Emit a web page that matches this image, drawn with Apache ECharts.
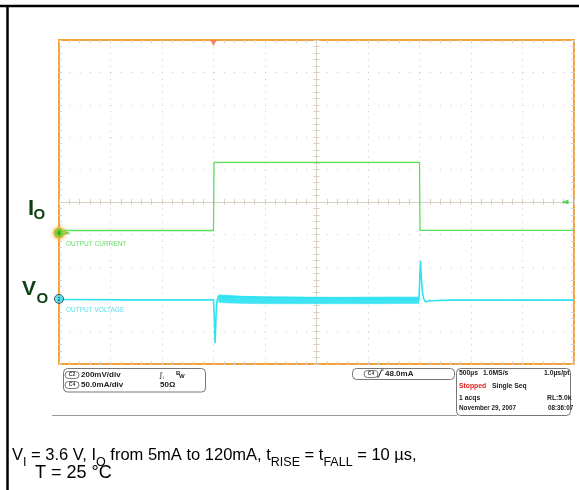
<!DOCTYPE html>
<html><head><meta charset="utf-8">
<script src="https://cdn.jsdelivr.net/npm/echarts/dist/echarts.min.js"></script>
<style>html,body{margin:0;padding:0;background:#fff}#c{width:579px;height:490px}</style>
</head><body><div id="c"></div>
<script>
// Time in µs relative to screen centre (500 µs/div); amplitudes in screen divisions (10 div high)
const currentTime = [-2500, -1000, -995, 1000, 1005, 2500];
const currentDiv  = [-0.88, -0.88, 1.225, 1.225, -0.875, -0.875];
const voltageTime = [-2500, -1800, -1000, -992, -985, -980, -974, -966, -955, -945, 995, 1003, 1010, 1018, 1028, 1040, 1058, 1100, 1300, 2500];
const voltageDiv  = [-3.01, -3.02, -3.02, -3.6, -4.36, -3.95, -3.4, -3.05, -2.92, -2.95, -3.0, -2.3, -1.82, -2.35, -2.77, -2.98, -3.08, -3.05, -3.03, -3.03];
const rippleTime  = [-950, -850, -700, -500, -200, 200, 600, 995];
const rippleHigh  = [-2.86, -2.88, -2.91, -2.93, -2.93, -2.94, -2.93, -2.93];
const rippleLow   = [-3.10, -3.12, -3.13, -3.14, -3.14, -3.14, -3.14, -3.13];
const groundRefDiv = [-0.96, -2.99];     // channel 4 (current), channel 2 (voltage)
const triggerTime = -1000;
const triggerLevelDiv = 0;

const gridC = '#d8d0c2', dotC = '#c9c9c9', orange = '#f2a23a';
const green = '#58e058', cyan = '#2fe2f2';
const FF = '"Liberation Sans", Arial, Helvetica, sans-serif';

function xAx(position, onZero, split) {
  return {
    type: 'value', min: -2500, max: 2500, interval: 500, position: position,
    axisLine: { show: onZero, onZero: onZero, lineStyle: { color: gridC, width: 1 } },
    axisTick: { show: true, inside: !onZero, length: 3, lineStyle: { color: gridC } },
    minorTick: { show: true, splitNumber: 5, length: 3, lineStyle: { color: gridC } },
    axisLabel: { show: false },
    splitLine: { show: split, lineStyle: { color: dotC, width: 1, type: [1, 5.48] } }
  };
}
function yAx(position, onZero, split) {
  return {
    type: 'value', min: -5, max: 5, interval: 1, position: position,
    axisLine: { show: onZero, onZero: onZero, lineStyle: { color: gridC, width: 1 } },
    axisTick: { show: true, inside: !onZero, length: 3, lineStyle: { color: gridC } },
    minorTick: { show: true, splitNumber: 5, length: 3, lineStyle: { color: gridC } },
    axisLabel: { show: false },
    splitLine: { show: split, lineStyle: { color: dotC, width: 1, type: [1, 9.3] } }
  };
}

const zip = (a, b) => a.map((v, i) => [v, b[i]]);

function txt(x, y, s, size, opts) {
  opts = opts || {};
  return { type: 'text', x: x, y: y, silent: true, z: 10,
    style: Object.assign({ text: s, font: (opts.weight || 'bold') + ' ' + size + 'px ' + FF,
      fill: opts.color || '#222', align: opts.align || 'left', verticalAlign: 'middle' }, opts.style || {}) };
}
function pill(x, y, label) {
  return [
    { type: 'rect', shape: { x: x, y: y, width: 14, height: 7, r: 3.5 }, style: { fill: '#fff', stroke: '#555', lineWidth: 0.8 }, z: 10 },
    txt(x + 7, y + 3.6, label, 5, { align: 'center', color: '#333' })
  ];
}

const graphics = [
  // page frame lines
  { type: 'line', shape: { x1: 0, y1: 6, x2: 579, y2: 6 }, style: { stroke: '#000', lineWidth: 2.5 } },
  { type: 'line', shape: { x1: 7.5, y1: 5, x2: 7.5, y2: 490 }, style: { stroke: '#000', lineWidth: 2.5 } },
  // channel labels
  txt(28, 208.5, 'I', 22, { color: '#0d3f10' }),
  txt(33.5, 214.5, 'O', 15, { color: '#0d3f10' }),
  txt(22, 289, 'V', 21, { color: '#0d3f10' }),
  txt(36.5, 298.5, 'O', 15, { color: '#0d3f10' }),
  txt(66, 244, 'OUTPUT CURRENT', 6.5, { weight: 'normal', color: '#66dd66' }),
  txt(66, 310, 'OUTPUT VOLTAGE', 6.5, { weight: 'normal', color: '#55dde8' }),
  // info box 1
  { type: 'rect', shape: { x: 63.5, y: 368.5, width: 142, height: 23.5, r: 4 }, style: { fill: 'none', stroke: '#777', lineWidth: 1 } },
  ...pill(65, 371.5, 'C2'),
  txt(81, 375, '200mV/div', 8),
  ...pill(65, 381.5, 'C4'),
  txt(81, 385, '50.0mA/div', 8),
  txt(160, 375, 'ʃ', 8, { weight: 'normal' }),
  txt(162, 378, '↓', 5, { weight: 'normal' }),
  txt(176, 373, 'B', 6),
  txt(179, 376.5, 'W', 6),
  txt(160, 385, '50Ω', 8),
  // trigger box
  { type: 'rect', shape: { x: 352.5, y: 368.5, width: 102, height: 11, r: 4 }, style: { fill: 'none', stroke: '#777', lineWidth: 1 } },
  ...pill(364, 370.5, 'C4'),
  { type: 'polyline', shape: { points: [[377, 377], [378.5, 377], [381.5, 370], [383.5, 370]] }, style: { stroke: '#222', lineWidth: 1, fill: 'none' } },
  txt(385, 374, '48.0mA', 8),
  // acquisition box
  { type: 'rect', shape: { x: 456.5, y: 368.5, width: 114, height: 47, r: 4 }, style: { fill: 'none', stroke: '#777', lineWidth: 1 } },
  txt(459, 373.5, '500µs', 6.8),
  txt(483, 373.5, '1.0MS/s', 6.8),
  txt(544, 373.5, '1.0µs/pt', 6.8),
  txt(459, 386, 'Stopped', 6.8, { color: '#e02020' }),
  txt(492, 386, 'Single Seq', 6.8),
  txt(459, 398, '1 acqs', 6.8),
  txt(547, 398, 'RL:5.0k', 6.8),
  txt(459, 408, 'November 29, 2007', 6.3),
  txt(548, 408, '08:36:07', 6.3),
  { type: 'line', shape: { x1: 52, y1: 415.5, x2: 457, y2: 415.5 }, style: { stroke: '#999', lineWidth: 1 } },
  // caption
  { type: 'text', x: 12, y: 447, silent: true, style: {
      text: '{m|V}{s|I}{m| = 3.6 V, I}{s|O}{m| from 5mA to 120mA, t}{s|RISE}{m| = t}{s|FALL}{m| = 10 µs,}',
      fill: '#000', verticalAlign: 'top',
      rich: {
        m: { fontSize: 16.5, fontFamily: FF, fill: '#000', padding: [0, 0, 6, 0] },
        s: { fontSize: 12.5, fontFamily: FF, fill: '#000', padding: [8, 0, 0, 0] }
      } } },
  txt(35, 473, 'T = 25 °C', 18, { weight: 'normal', color: '#000' })
];

const option = {
  animation: false,
  backgroundColor: '#fff',
  grid: { left: 59, top: 40, width: 515, height: 324, show: true, borderColor: orange, borderWidth: 2, backgroundColor: 'transparent' },
  xAxis: [xAx('bottom', true, true), xAx('top', true, false), xAx('bottom', false, false), xAx('top', false, false)],
  yAxis: [yAx('left', true, true), yAx('right', true, false), yAx('left', false, false), yAx('right', false, false)],
  series: [
    { type: 'custom', xAxisIndex: 0, yAxisIndex: 0, data: [[0, 0]], z: 3, silent: true,
      renderItem: function (params, api) {
        const pts = [];
        for (let i = 0; i < rippleTime.length; i++) pts.push(api.coord([rippleTime[i], rippleHigh[i]]));
        for (let i = rippleTime.length - 1; i >= 0; i--) pts.push(api.coord([rippleTime[i], rippleLow[i]]));
        return { type: 'polygon', shape: { points: pts }, style: { fill: '#3ee4f3', stroke: '#3ee4f3', lineWidth: 0.5 } };
      } },
    { type: 'line', name: 'Vo', xAxisIndex: 0, yAxisIndex: 0, data: zip(voltageTime, voltageDiv), symbol: 'none', z: 4,
      lineStyle: { color: cyan, width: 1.6 } },
    { type: 'line', name: 'Io', xAxisIndex: 0, yAxisIndex: 0, data: zip(currentTime, currentDiv), symbol: 'none', z: 5,
      lineStyle: { color: green, width: 1.3 } },
    { type: 'scatter', xAxisIndex: 0, yAxisIndex: 0, clip: false, z: 8, silent: true,
      data: [
        { value: [-2500, groundRefDiv[0]], symbol: 'triangle', symbolSize: [5, 7], symbolRotate: -90, symbolOffset: [8, 0], itemStyle: { color: '#33cc33' } },
        { value: [-2500, groundRefDiv[0]], symbol: 'circle', symbolSize: 10,
          itemStyle: { color: '#22dd22', borderColor: '#f5b040', borderWidth: 1.5, shadowColor: '#f5b040', shadowBlur: 4 },
          label: { show: true, formatter: '4', position: 'inside', fontSize: 6, color: '#114411', fontFamily: FF } },
        { value: [-2500, groundRefDiv[1]], symbol: 'circle', symbolSize: 9,
          itemStyle: { color: '#3ae0f0', borderColor: '#334', borderWidth: 1 },
          label: { show: true, formatter: '2', position: 'inside', fontSize: 6, color: '#114', fontFamily: FF } },
        { value: [triggerTime, 5], symbol: 'triangle', symbolSize: [7, 6], symbolRotate: 180, symbolOffset: [0, 3], itemStyle: { color: '#f07050' } },
        { value: [2500, triggerLevelDiv], symbol: 'triangle', symbolSize: [5, 7], symbolRotate: 90, symbolOffset: [-9, 0], itemStyle: { color: '#33cc33' } }
      ] }
  ],
  graphic: graphics
};
const chart = echarts.init(document.getElementById('c'));
chart.setOption(option);
</script>
</body></html>
